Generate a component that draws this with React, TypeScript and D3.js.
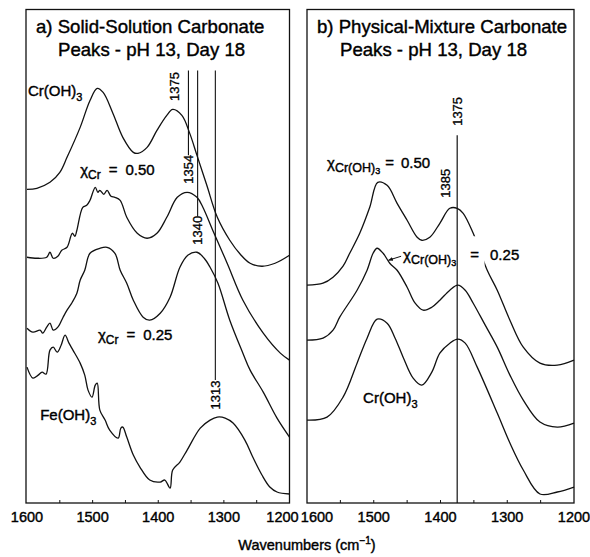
import React from 'react';
import * as d3 from 'd3';

type Pt = [number, number];

// x-axis ticks (wavenumbers, cm^-1)
const xTickLabels = [1600, 1500, 1400, 1300, 1200];
const xMinorTicks = [1550, 1500, 1450, 1400, 1350, 1300, 1250];

// Panel a) solid-solution spectra: [wavenumber, offset absorbance (arb.)]
const solidCrOH3: Pt[] = [
  [1600, 314], [1585, 315], [1565, 321], [1550, 331], [1539, 346], [1519, 376], [1504, 403],
  [1493, 415], [1484, 411], [1469, 390], [1454, 366], [1438, 351], [1431, 350], [1417, 356],
  [1402, 373], [1387, 388], [1378, 394], [1364, 388], [1352, 370], [1341, 348], [1326, 318],
  [1310, 286], [1291, 263], [1275, 249], [1260, 240], [1242, 237], [1222, 240], [1200, 248],
];
const solidX050: Pt[] = [
  [1600, 246], [1585, 245], [1570, 246], [1565, 251], [1560, 245], [1553, 247], [1547, 253],
  [1539, 256], [1531, 270], [1527, 267], [1524, 273], [1515, 296], [1509, 298], [1504, 303],
  [1496, 316], [1492, 311], [1489, 313], [1483, 309], [1478, 313], [1472, 307], [1466, 306],
  [1458, 303], [1448, 286], [1432, 270], [1417, 265], [1402, 270], [1387, 286], [1371, 306],
  [1356, 311], [1341, 306], [1332, 296], [1317, 273], [1295, 240], [1271, 203], [1240, 170],
  [1214, 150], [1200, 143],
];
const solidX025: Pt[] = [
  [1600, 175], [1591, 171], [1580, 173], [1576, 170], [1570, 176], [1565, 180], [1560, 173],
  [1553, 176], [1545, 186], [1539, 193], [1531, 201], [1524, 210], [1519, 223], [1512, 233],
  [1504, 250], [1489, 255], [1478, 256], [1466, 250], [1458, 233], [1448, 220], [1438, 203],
  [1423, 186], [1413, 183], [1397, 190], [1382, 206], [1367, 236], [1355, 248], [1341, 251],
  [1330, 245], [1321, 236], [1309, 220], [1291, 183], [1271, 150], [1260, 133], [1240, 111],
  [1219, 85], [1200, 66],
];
const solidFeOH3: Pt[] = [
  [1600, 136], [1591, 125], [1583, 128], [1577, 131], [1571, 129], [1565, 153], [1560, 156],
  [1554, 151], [1548, 158], [1542, 168], [1536, 160], [1530, 153], [1519, 140], [1512, 128],
  [1507, 113], [1501, 106], [1496, 118], [1493, 120], [1489, 93], [1481, 83], [1474, 73],
  [1461, 65], [1457, 75], [1454, 76], [1448, 66], [1438, 48], [1428, 36], [1413, 23],
  [1397, 21], [1390, 23], [1382, 15], [1378, 33], [1367, 41], [1356, 53], [1336, 75],
  [1321, 83], [1310, 86], [1298, 85], [1286, 80], [1268, 63], [1256, 46], [1242, 28],
  [1230, 16], [1219, 11], [1200, 9],
];

// Panel b) physical-mixture spectra
const mixX050: Pt[] = [
  [1600, 218], [1576, 220], [1561, 226], [1546, 237], [1536, 250], [1521, 270], [1506, 296],
  [1494, 321], [1480, 318], [1465, 300], [1450, 283], [1435, 266], [1428, 263], [1416, 266],
  [1401, 280], [1386, 295], [1375, 295], [1366, 290], [1351, 270], [1330, 233], [1315, 213],
  [1296, 183], [1276, 156], [1251, 140], [1225, 138], [1200, 143],
];
const mixX025: Pt[] = [
  [1600, 163], [1576, 165], [1561, 173], [1551, 186], [1525, 213], [1510, 233], [1501, 250],
  [1495, 255], [1486, 250], [1476, 240], [1465, 233], [1450, 216], [1438, 200], [1426, 193],
  [1413, 196], [1401, 203], [1386, 213], [1374, 218], [1363, 213], [1351, 200], [1333, 178],
  [1315, 156], [1296, 128], [1276, 103], [1251, 81], [1225, 76], [1200, 80],
];
const mixCrOH3: Pt[] = [
  [1600, 83], [1570, 86], [1546, 106], [1525, 140], [1510, 165], [1495, 184], [1480, 180],
  [1468, 165], [1456, 146], [1441, 125], [1428, 118], [1413, 131], [1401, 150], [1386, 160],
  [1374, 164], [1363, 160], [1345, 136], [1315, 90], [1296, 60], [1276, 33], [1251, 9],
  [1225, 11], [1200, 16],
];

// Peak markers: [wavenumber, label, lineTop, lineBottom, labelCenter] (y in offset-absorbance units)
const solidPeaks: [number, string, number | null, number | null, number][] = [
  [1375, '1375', null, null, 417],
  [1354, '1354', 433, 348, 334],
  [1340, '1340', 433, 287, 273],
  [1313, '1313', 433, 123, 108],
];
const mixPeaks: [number, string, number | null, number | null, number, number][] = [
  [1375, '1375', 368, 0, 392, 0],
  [1385, '1385', null, null, 320, -5.5],
];

const FONT = '"Liberation Sans", Arial, Helvetica, sans-serif';
const W = 590;
const H = 557;
const TOP = 9.5;
const BOTTOM = 503;

const yScale = d3.scaleLinear().domain([0, 494]).range([BOTTOM, TOP]);

const line = (x: d3.ScaleLinear<number, number>) =>
  d3
    .line<Pt>()
    .x((d) => x(d[0]))
    .y((d) => yScale(d[1]))
    .curve(d3.curveCatmullRom.alpha(0.5));

function Frame({ x, fx0, fx1, labelOffsets }: { x: d3.ScaleLinear<number, number>; fx0: number; fx1: number; labelOffsets: Record<number, number> }) {
  return (
    <g>
      <rect x={fx0} y={TOP} width={fx1 - fx0} height={BOTTOM - TOP} fill="none" stroke="#111" strokeWidth={1.3} />
      {xMinorTicks.map((t) => (
        <line key={t} x1={x(t)} x2={x(t)} y1={BOTTOM} y2={BOTTOM - 3} stroke="#111" strokeWidth={1} />
      ))}
      {xTickLabels.map((t) => (
        <text
          key={t}
          x={x(t) + (labelOffsets[t] || 0)}
          y={522}
          textAnchor="middle"
          fontSize={14.5}
          fontFamily={FONT}
          stroke="#000"
          strokeWidth={0.4}
        >
          {t}
        </text>
      ))}
    </g>
  );
}

function Rot({ x, y, text }: { x: number; y: number; text: string }) {
  return (
    <text
      transform={`translate(${x},${y}) rotate(-90)`}
      textAnchor="middle"
      dominantBaseline="central"
      fontSize={13}
      fontFamily={FONT}
      stroke="#000"
      strokeWidth={0.3}
    >
      {text}
    </text>
  );
}

const txtProps = { fontFamily: FONT, stroke: '#000', strokeWidth: 0.4 } as const;

export default function App() {
  const xL = d3.scaleLinear().domain([1600, 1200]).range([27, 289.5]);
  const xR = d3.scaleLinear().domain([1600, 1200]).range([307, 574]);
  const lL = line(xL);
  const lR = line(xR);

  const curveStyle = { fill: 'none', stroke: '#111', strokeWidth: 1.3, strokeLinejoin: 'round' as const };

  return (
    <svg width={W} height={H} viewBox={`0 0 ${W} ${H}`} style={{ display: 'block', position: 'absolute', left: 0, top: 0, background: '#fff' }}>
      <defs>
        <marker id="arr" viewBox="0 0 10 10" refX="9" refY="5" markerWidth="5" markerHeight="5" orient="auto">
          <path d="M0,1 L10,5 L0,9 z" fill="#111" />
        </marker>
      </defs>
      <rect width={W} height={H} fill="#fff" />

      {/* Panel a */}
      <Frame x={xL} fx0={26} fx1={289.5} labelOffsets={{ 1200: -7 }} />
      <text x={36} y={33} fontSize={18.6} {...txtProps}>a) Solid-Solution Carbonate</text>
      <text x={58} y={56} fontSize={18.6} {...txtProps}>Peaks - pH 13, Day 18</text>
      {[solidCrOH3, solidX050, solidX025, solidFeOH3].map((s, i) => (
        <path key={i} d={lL(s) || ''} {...curveStyle} />
      ))}
      {solidPeaks.map(([wn, lab, t, b, c]) => (
        <g key={lab}>
          {t !== null && b !== null && (
            <line x1={xL(wn)} x2={xL(wn)} y1={yScale(t)} y2={yScale(b)} stroke="#111" strokeWidth={1.1} />
          )}
          <Rot x={xL(wn)} y={yScale(c)} text={lab} />
        </g>
      ))}
      <text x={xL(1598.5)} y={yScale(407)} fontSize={15} {...txtProps}>
        Cr(OH)<tspan fontSize={11} dy={5}>3</tspan>
      </text>
      <text x={xL(1519)} y={yScale(328)} fontSize={15} {...txtProps}>
        χ<tspan fontSize={12} dy={4}>Cr</tspan>
        <tspan dy={-4} dx={8}>=</tspan>
        <tspan dx={8}>0.50</tspan>
      </text>
      <text x={xL(1492)} y={yScale(163)} fontSize={15} {...txtProps}>
        χ<tspan fontSize={12} dy={4}>Cr</tspan>
        <tspan dy={-4} dx={8}>=</tspan>
        <tspan dx={8}>0.25</tspan>
      </text>
      <text x={xL(1580)} y={yScale(83)} fontSize={15} {...txtProps}>
        Fe(OH)<tspan fontSize={11} dy={5}>3</tspan>
      </text>

      {/* Panel b */}
      <Frame x={xR} fx0={307} fx1={574} labelOffsets={{ 1600: 10 }} />
      <text x={317} y={33} fontSize={18.6} {...txtProps}>b) Physical-Mixture Carbonate</text>
      <text x={340} y={56} fontSize={18.6} {...txtProps}>Peaks - pH 13, Day 18</text>
      {[mixX050, mixX025, mixCrOH3].map((s, i) => (
        <path key={i} d={lR(s) || ''} {...curveStyle} />
      ))}
      {/* break in the upper trace where the label sits */}
      <rect
        x={xR(1354)}
        y={yScale(267)}
        width={xR(1334) - xR(1354)}
        height={yScale(232) - yScale(267)}
        fill="#fff"
      />
      {mixPeaks.map(([wn, lab, t, b, c, dx]) => (
        <g key={lab}>
          {t !== null && b !== null && (
            <line x1={xR(wn)} x2={xR(wn)} y1={yScale(t)} y2={yScale(b)} stroke="#111" strokeWidth={1.2} />
          )}
          <Rot x={xR(wn) + dx} y={yScale(c)} text={lab} />
        </g>
      ))}
      <text x={xR(1570)} y={yScale(335)} fontSize={15} {...txtProps}>
        χ<tspan fontSize={12.5} dy={4}>Cr(OH)</tspan>
        <tspan fontSize={9} dy={2}>3</tspan>
        <tspan dy={-6} dx={5}>=</tspan>
        <tspan dx={7}>0.50</tspan>
      </text>
      <text x={xR(1456)} y={yScale(243)} fontSize={15} {...txtProps}>
        χ<tspan fontSize={12.5} dy={4}>Cr(OH)</tspan>
        <tspan fontSize={9} dy={2}>3</tspan>
        <tspan dy={-6} dx={14}>=</tspan>
        <tspan dx={11}>0.25</tspan>
      </text>
      <line
        x1={xR(1459)}
        y1={yScale(247)}
        x2={xR(1478)}
        y2={yScale(243)}
        stroke="#111"
        strokeWidth={1}
        markerEnd="url(#arr)"
      />
      <text x={xR(1516)} y={yScale(100)} fontSize={15} {...txtProps}>
        Cr(OH)<tspan fontSize={11} dy={5}>3</tspan>
      </text>

      {/* x-axis title */}
      <text x={307} y={550} textAnchor="middle" fontSize={14.5} {...txtProps}>
        Wavenumbers (cm<tspan fontSize={10} dy={-6}>−1</tspan>
        <tspan dy={6}>)</tspan>
      </text>
    </svg>
  );
}
